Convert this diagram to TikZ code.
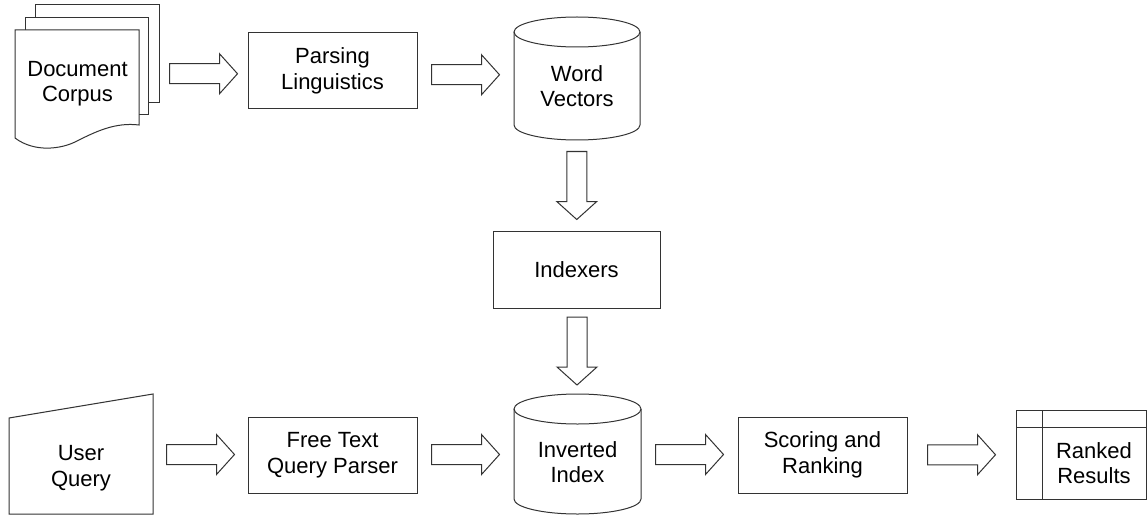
\documentclass[tikz,border=0pt]{standalone}
\usepackage{fontspec}
\setmainfont{Liberation Sans}
\usetikzlibrary{calc}

\tikzset{
  ink/.style={draw=black!80, line width=1pt, line join=miter},
  lbl/.style={font=\fontsize{22}{25.5}\selectfont, align=center, inner sep=0pt},
  stepbox/.style={ink, fill=white, inner sep=0pt, outer sep=0pt,
                  font=\fontsize{22}{25.5}\selectfont, align=center},
  frame/.style={inner sep=0pt, outer sep=0pt},
  blockarrow/.style={ink, fill=white},
}

% hollow block arrow centred between two anchors, turned by #3 degrees
\newcommand\flowarrow[3]{%
  \draw[blockarrow, shift={($(#1)!0.5!(#2)$)}, rotate=#3]
    (-34,-10) -- (16,-10) -- (16,-20) -- (34,0) -- (16,20) -- (16,10) -- (-34,10) -- cycle;}

\begin{document}
\begin{tikzpicture}[x=1pt, y=1pt]
\useasboundingbox (0,0) rectangle (1147,515);

% ---- document stack ----
\node[frame, minimum width=144, minimum height=143] (doc) at (87,438.5) {};
\draw[ink, fill=white] (35,412) rectangle (159,510);
\draw[ink, fill=white] (25,400) rectangle (148,497);
\draw[ink, fill=white] (15,485) -- (139,485) -- (139,390)
  .. controls (115,393) and (95,383) .. (77,374)
  .. controls (62,366) and (35,362) .. (15,377) -- cycle;
\node[lbl] (doctext) at (77.5,431.5) {Document\\Corpus};

% ---- parsing ----
\node[stepbox, minimum width=169, minimum height=76] (parse) at (332.5,444) {Parsing\\Linguistics};

% ---- word vectors store ----
\node[frame, minimum width=126, minimum height=123] (wv) at (577,436.5) {};
\draw[ink, fill=white] ($(wv.north west)+(0,-15)$) -- ($(wv.south west)+(0,15)$)
  arc[start angle=180, end angle=360, x radius=63, y radius=15]
  -- ($(wv.north east)+(0,-15)$);
\draw[ink] ($(wv.north)+(0,-15)$) ellipse [x radius=63, y radius=15];
\node[lbl] (wvtext) at (577,429) {Word\\Vectors};

% ---- indexers ----
\node[stepbox, minimum width=167, minimum height=77] (idx) at (576.5,245.5) {Indexers};

% ---- inverted index store ----
\node[frame, minimum width=127, minimum height=120] (inv) at (577.5,61) {};
\draw[ink, fill=white] ($(inv.north west)+(0,-15)$) -- ($(inv.south west)+(0,15)$)
  arc[start angle=180, end angle=360, x radius=63.5, y radius=15]
  -- ($(inv.north east)+(0,-15)$);
\draw[ink] ($(inv.north)+(0,-15)$) ellipse [x radius=63.5, y radius=15];
\node[lbl] (invtext) at (577.5,53) {Inverted\\Index};

% ---- user query (manual input) ----
\node[frame, minimum width=144, minimum height=120] (uq) at (81,61) {};
\draw[ink, fill=white] (uq.south west) -- (uq.south east) -- (uq.north east)
  -- ($(uq.north west)+(0,-24)$) -- cycle;
\node[lbl] (uqtext) at (81,47) {User\\Query};

% ---- query parser ----
\node[stepbox, minimum width=169, minimum height=76] (ftqp) at (332.5,60) {Free Text\\Query Parser};

% ---- scoring ----
\node[stepbox, minimum width=169, minimum height=76] (score) at (822.5,60) {Scoring and\\Ranking};

% ---- ranked results table ----
\node[stepbox, minimum width=130, minimum height=89] (ranked) at (1081,60.5) {};
\draw[ink] ($(ranked.north west)+(26,0)$) -- ($(ranked.south west)+(26,0)$);
\draw[ink] ($(ranked.north west)+(0,-17)$) -- ($(ranked.north east)+(0,-17)$);
\node[lbl] (rankedtext) at (1094,52) {Ranked\\Results};

% ---- flow arrows ----
\flowarrow{doc.east}{parse.west}{0}
\flowarrow{parse.east}{wv.west}{0}
\flowarrow{wv.south}{idx.north}{-90}
\flowarrow{idx.south}{inv.north}{-90}
\flowarrow{uq.east}{ftqp.west}{0}
\flowarrow{ftqp.east}{inv.west}{0}
\flowarrow{inv.east}{score.west}{0}
\flowarrow{score.east}{ranked.west}{0}
\end{tikzpicture}
\end{document}
